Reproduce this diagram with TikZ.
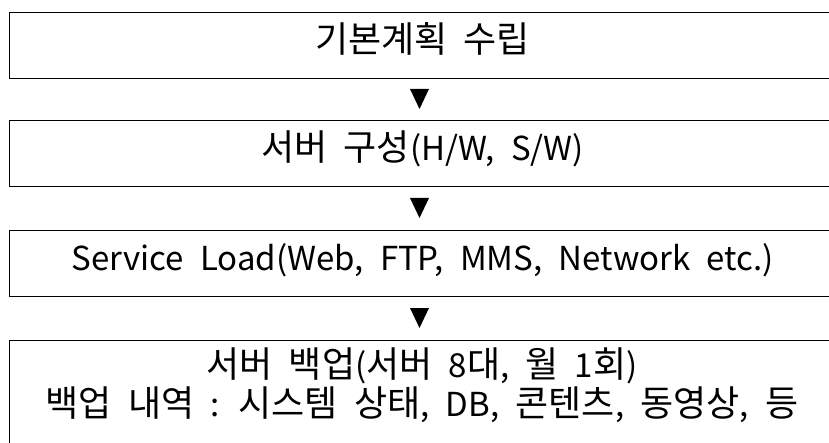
\documentclass[tikz,border=0pt]{standalone}
\usepackage{fontspec}
\setmainfont{Noto Sans CJK KR}
\newcommand{\boxfont}{\fontsize{36}{39}\selectfont\spaceskip=0.45em\relax}
\newcommand{\lt}[1]{{\fontsize{33}{39}\selectfont #1}}
\tikzset{
  stepbox/.style={draw, line width=1.3pt, minimum width=826pt, minimum height=66pt,
    anchor=north west, inner sep=0pt, text height=20pt, text depth=6pt, font=\boxfont},
  steptext/.style={align=center, inner sep=0pt, font=\boxfont},
  arrowtri/.style={fill=black}
}
\begin{document}
\begin{tikzpicture}[x=1pt,y=-1pt]
\useasboundingbox (0,0) rectangle (829,443);
\node[stepbox] (b1) at (9,12) {기본계획 수립};
\node[stepbox] (b2) at (9,120) {서버 구성\lt{(H/W, S/W)}};
\node[stepbox] (b3) at (9,230) {\lt{Service Load(Web, FTP, MMS, Network etc.)}};
\node[stepbox, minimum height=130pt, text height=, text depth=] (b4) at (9,340) {};
\node[steptext] (t4) at (422,385) {서버 백업\lt{(}서버 \lt{8}대\lt{, }월 \lt{1}회\lt{)}\\백업 내역 \lt{:} 시스템 상태\lt{, DB, }콘텐츠\lt{, }동영상\lt{, }등};
\coordinate (a1) at (419.5,89);
\coordinate (a2) at (419.5,198);
\coordinate (a3) at (419.5,308);
\foreach \a in {a1,a2,a3}
  \fill[arrowtri] ([xshift=-9.5pt]\a) -- ([xshift=9.5pt]\a) -- ([yshift=-20pt]\a) -- cycle;
\end{tikzpicture}
\end{document}
